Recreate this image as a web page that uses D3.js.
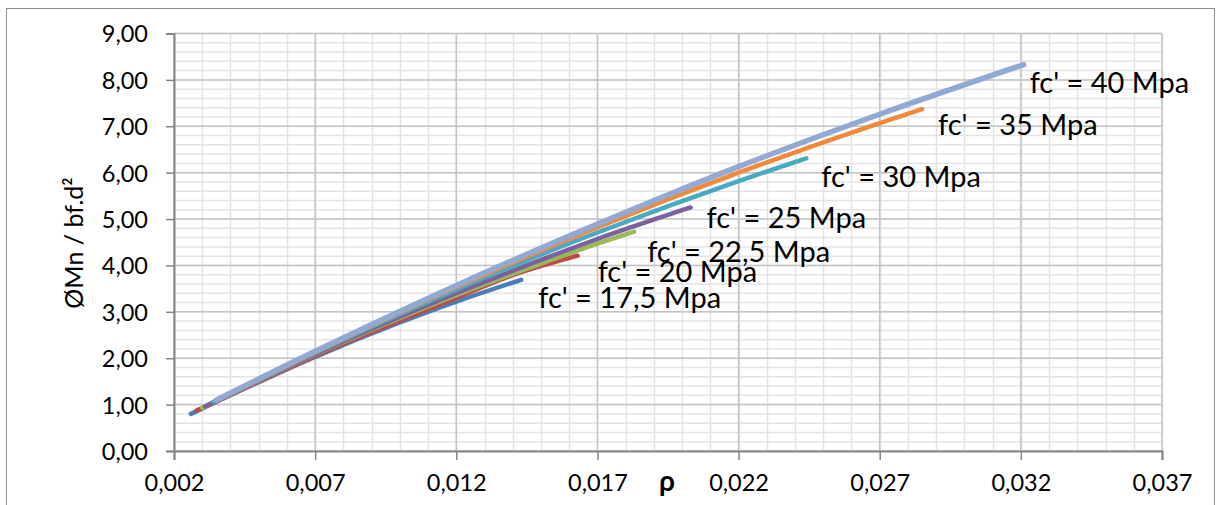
<!DOCTYPE html>
<html><head><meta charset="utf-8">
<script src="https://cdn.jsdelivr.net/npm/d3@7"></script>
<style>body{margin:0;background:#fff}svg{display:block}</style>
</head><body><svg id="c" width="1223" height="505"></svg>
<script>
// ---- data ----
const seriesNames = ["fc' = 17,5 Mpa", "fc' = 20 Mpa", "fc' = 22,5 Mpa", "fc' = 25 Mpa", "fc' = 30 Mpa", "fc' = 35 Mpa", "fc' = 40 Mpa"];
const rho_17_5 = [0.0026, 0.0070, 0.0100, 0.0120, 0.0143];
const mn_17_5  = [0.80, 2.03, 2.77, 3.22, 3.69];
const rho_20   = [0.0028, 0.0070, 0.0120, 0.0140, 0.0163];
const mn_20    = [0.87, 2.05, 3.30, 3.79, 4.21];
const rho_22_5 = [0.0030, 0.0070, 0.0120, 0.0150, 0.0170, 0.0183];
const mn_22_5  = [0.93, 2.08, 3.36, 4.04, 4.47, 4.73];
const rho_25   = [0.0031, 0.0070, 0.0120, 0.0170, 0.0203];
const mn_25    = [0.96, 2.09, 3.40, 4.57, 5.25];
const rho_30   = [0.0034, 0.0070, 0.0120, 0.0170, 0.0220, 0.0244];
const mn_30    = [1.06, 2.12, 3.48, 4.71, 5.82, 6.31];
const rho_35   = [0.0035, 0.0070, 0.0120, 0.0170, 0.0220, 0.0270, 0.0285];
const mn_35    = [1.09, 2.13, 3.53, 4.82, 6.00, 7.07, 7.37];
const rho_40   = [0.0035, 0.0070, 0.0120, 0.0170, 0.0220, 0.0270, 0.0321];
const mn_40    = [1.10, 2.15, 3.57, 4.89, 6.13, 7.26, 8.33];
const xTickValues = [0.002, 0.007, 0.012, 0.017, 0.022, 0.027, 0.032, 0.037];
const xTickLabels = ["0,002", "0,007", "0,012", "0,017", "0,022", "0,027", "0,032", "0,037"];
const yTickValues = [0, 1, 2, 3, 4, 5, 6, 7, 8, 9];
const yTickLabels = ["0,00", "1,00", "2,00", "3,00", "4,00", "5,00", "6,00", "7,00", "8,00", "9,00"];
const xTitle = "ρ";
const yTitle = "ØMn / bf.d²";

// ---- styles ----
const colors = ["#4A7EBB", "#BE4B48", "#98B954", "#7D60A0", "#46AAC5", "#F08A3A", "#92A9D4"];
const widths = [4.5, 4.5, 4.5, 4.5, 4.5, 4.5, 5.5];
const labelOffsets = [[17, 28], [20, 26], [13, 30], [16, 21], [15, 29], [16, 26], [6, 28]];
const FONT = "Lato, 'Open Sans', sans-serif";

const allRho = [rho_17_5, rho_20, rho_22_5, rho_25, rho_30, rho_35, rho_40];
const allMn = [mn_17_5, mn_20, mn_22_5, mn_25, mn_30, mn_35, mn_40];
const series = seriesNames.map((n, i) => ({name: n, pts: allRho[i].map((r, j) => [r, allMn[i][j]])}));

const svg = d3.select("#c");
const L = 174, R = 1162, T = 33.5, B = 451;
const x = d3.scaleLinear().domain([0.002, 0.037]).range([L, R]);
const y = d3.scaleLinear().domain([0, 9]).range([B, T]);

svg.append("rect").attr("width", 1223).attr("height", 505).attr("fill", "#fff");
// outer chart border
svg.append("rect").attr("x", 6.5).attr("y", 8.5).attr("width", 1208).attr("height", 510)
  .attr("fill", "none").attr("stroke", "#8c8c8c").attr("stroke-width", 1);

// minor grid
const g = svg.append("g");
g.selectAll(".vm").data(d3.range(2, 38).map(v => v / 1000)).enter().append("line")
  .attr("x1", d => Math.round(x(d)) + 0.5).attr("x2", d => Math.round(x(d)) + 0.5)
  .attr("y1", T).attr("y2", B).attr("stroke", "#e4e4e4").attr("stroke-width", 1.5);
g.selectAll(".hm").data(d3.range(0, 46).map(v => v * 0.2)).enter().append("line")
  .attr("y1", d => y(d)).attr("y2", d => y(d))
  .attr("x1", L).attr("x2", R).attr("stroke", "#e4e4e4").attr("stroke-width", 1.5);
// major grid
g.selectAll(".vM").data(xTickValues).enter().append("line")
  .attr("x1", d => x(d)).attr("x2", d => x(d))
  .attr("y1", T).attr("y2", B).attr("stroke", "#c4c4c4").attr("stroke-width", 1.5);
g.selectAll(".hM").data(yTickValues).enter().append("line")
  .attr("y1", d => y(d)).attr("y2", d => y(d))
  .attr("x1", L).attr("x2", R).attr("stroke", "#c4c4c4").attr("stroke-width", 1.5);

// axes
const yAxis = d3.axisLeft(y).tickValues(yTickValues).tickFormat((d, i) => yTickLabels[i]).tickSize(8).tickPadding(18);
const xAxis = d3.axisBottom(x).tickValues(xTickValues).tickFormat((d, i) => xTickLabels[i]).tickSize(9).tickPadding(14);
const ya = svg.append("g").attr("transform", `translate(${L},0)`).call(yAxis);
const xa = svg.append("g").attr("transform", `translate(0,${B})`).call(xAxis);
[ya, xa].forEach(a => {
  a.select(".domain").attr("stroke", "#868686").attr("stroke-width", 2);
  a.selectAll(".tick line").attr("stroke", "#868686").attr("stroke-width", 1.5);
  a.selectAll("text").attr("font-family", FONT).attr("font-size", 23.5).attr("fill", "#000");
});
ya.selectAll("text").attr("dy", "0.36em");
xa.selectAll("text").attr("dy", "0.72em");

// lines
const line = d3.line().x(d => x(d[0])).y(d => y(d[1])).curve(d3.curveMonotoneX);
svg.append("g").selectAll("path").data(series).enter().append("path")
  .attr("d", d => line(d.pts)).attr("fill", "none")
  .attr("stroke", (d, i) => colors[i]).attr("stroke-width", (d, i) => widths[i])
  .attr("stroke-linecap", "round").attr("stroke-linejoin", "round");

// labels
svg.append("g").selectAll("text").data(series).enter().append("text")
  .attr("x", (d, i) => x(d.pts[d.pts.length - 1][0]) + labelOffsets[i][0])
  .attr("y", (d, i) => y(d.pts[d.pts.length - 1][1]) + labelOffsets[i][1])
  .attr("font-family", FONT).attr("font-size", 29).attr("fill", "#000")
  .text(d => d.name);

// axis titles
svg.append("text").attr("transform", "translate(83,243) rotate(-90)")
  .attr("text-anchor", "middle").attr("font-family", FONT).attr("font-size", 25).text(yTitle);
svg.append("text").attr("x", 667).attr("y", 491).attr("text-anchor", "middle")
  .attr("font-family", FONT).attr("font-weight", "bold").attr("font-size", 28).text(xTitle);
</script></body></html>
